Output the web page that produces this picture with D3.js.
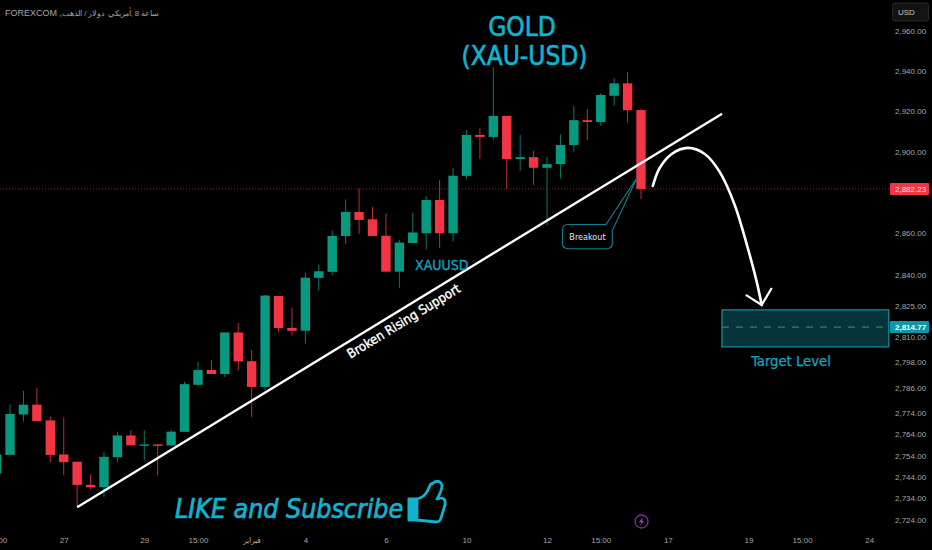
<!DOCTYPE html>
<html>
<head>
<meta charset="utf-8">
<script src="https://cdn.jsdelivr.net/npm/d3@7/dist/d3.min.js"></script>
<style>
html,body{margin:0;padding:0;background:#000;}
svg{display:block;}
</style>
</head>
<body>
<script>
const opens  = [2745.6,2754.3,2773.3,2777.9,2770.5,2754.5,2751.1,2740.3,2739.2,2753.2,2763.4,2759.0,2759.2,2758.7,2765.1,2787.3,2794.3,2792.4,2812.2,2798.5,2786.3,2829.7,2814.4,2813.0,2838.4,2841.3,2858.7,2870.4,2866.8,2858.8,2841.4,2855.3,2860.0,2876.2,2860.0,2888.0,2908.2,2907.2,2917.6,2896.3,2897.2,2892.0,2893.8,2903.2,2915.5,2914.6,2927.6,2933.8,2920.5];
const highs  = [2754.5,2777.9,2784.5,2785.8,2772.4,2771.8,2751.1,2745.2,2755.7,2765.2,2765.8,2765.8,2759.2,2766.2,2788.7,2798.2,2799.2,2812.2,2816.7,2803.9,2830.2,2829.7,2824.1,2841.0,2845.0,2861.3,2876.5,2881.9,2872.9,2869.7,2856.8,2870.0,2878.2,2886.0,2892.0,2910.6,2911.5,2942.0,2917.6,2908.2,2900.3,2897.5,2908.5,2922.5,2920.9,2928.9,2936.3,2939.3,2921.2];
const lows   = [2745.6,2754.3,2770.0,2770.2,2750.9,2744.8,2730.3,2738.2,2734.8,2750.9,2758.8,2751.8,2744.8,2758.7,2765.1,2786.9,2792.4,2791.0,2794.1,2772.1,2784.9,2812.4,2810.7,2806.9,2832.3,2839.6,2854.7,2859.6,2858.7,2841.4,2833.6,2855.3,2852.2,2852.9,2856.0,2886.4,2896.3,2905.7,2881.6,2890.6,2883.6,2864.0,2886.7,2899.9,2905.7,2912.8,2922.7,2914.2,2876.7];
const closes = [2754.5,2773.5,2777.9,2770.2,2754.3,2750.9,2740.3,2739.2,2753.4,2763.4,2758.8,2759.2,2759.0,2765.2,2787.6,2794.3,2792.4,2812.2,2798.4,2786.3,2829.9,2814.3,2813.0,2838.5,2841.6,2858.7,2870.4,2866.5,2858.7,2841.4,2855.5,2860.4,2876.2,2860.0,2888.1,2908.2,2907.2,2917.6,2896.3,2897.2,2892.0,2893.8,2903.2,2915.5,2914.6,2928.0,2933.8,2920.4,2881.6];

const priceTicks = [2960,2940,2920,2900,2880,2860,2840,2825,2810,2798,2786,2774,2764,2754,2744,2734,2724];
const timeTickIndex = [0,5,11,15,19,23,29,35,41,45,50,56,60,65];
const timeTickLabels = ["15:00","27","29","15:00","فبراير","4","6","10","12","15:00","17","19","15:00","24"];

const trendIndex = [6,54.04];
const trendPrice = [2729.9,2918.7];
const pathIndex = [48.88,49.40,50.29,51.48,52.75,53.86,54.98,55.95,56.62,56.99];
const pathPrice = [2883.1,2892,2898.8,2901.8,2898.8,2890,2873.8,2852.9,2836.5,2825.4];
const arrowIndex = [55.8,56.99,57.74];
const arrowPrice = [2830.2,2825.4,2833.5];
const targetIndex = [54.03,66.45];
const targetPrice = [2823,2805.3];
const targetMid = 2814.77;
const targetLabel = "2,814.77";
const lastPrice = 2881.6;
const lastLabel = "2,882.23";

const W=932,H=550;
const CYAN="#10b4cf", TEAL="#12a5c0";
const GREEN="#089981", RED="#f23645";
const x=d3.scaleLinear().domain([0,48]).range([-3.4,641]);
const y=d3.scaleLog().domain([2724,2960]).range([520,31]);
const svg=d3.select("body").append("svg").attr("width",W).attr("height",H).style("background","#000");
const SANS='"Liberation Sans",Arial,sans-serif';
const HUM='"DejaVu Sans Condensed","DejaVu Sans",sans-serif';

// last price dotted line
svg.append("line").attr("x1",0).attr("x2",889).attr("y1",y(lastPrice)).attr("y2",y(lastPrice))
  .attr("stroke",RED).attr("stroke-opacity",.55).attr("stroke-width",1).attr("stroke-dasharray","1 2");

// candles
const candles=svg.append("g").selectAll("g").data(d3.range(opens.length)).join("g");
const col=i=>closes[i]>=opens[i]?GREEN:RED;
candles.append("line").attr("x1",i=>x(i)).attr("x2",i=>x(i)).attr("y1",i=>y(highs[i])).attr("y2",i=>y(lows[i]))
  .attr("stroke",col).attr("stroke-width",1).attr("stroke-opacity",.8);
candles.append("rect").attr("x",i=>x(i)-4.7).attr("width",9.4)
  .attr("y",i=>y(Math.max(opens[i],closes[i])))
  .attr("height",i=>Math.max(1.4,Math.abs(y(opens[i])-y(closes[i]))))
  .attr("fill",col);

// target box
svg.append("rect").attr("x",x(targetIndex[0])).attr("width",x(targetIndex[1])-x(targetIndex[0]))
  .attr("y",y(targetPrice[0])).attr("height",y(targetPrice[1])-y(targetPrice[0]))
  .attr("fill","#06343a").attr("stroke","#0e8a96").attr("stroke-width",1.3);
svg.append("line").attr("x1",x(targetIndex[0])).attr("x2",x(targetIndex[1]))
  .attr("y1",y(targetMid)).attr("y2",y(targetMid))
  .attr("stroke","#2a9aa0").attr("stroke-width",1).attr("stroke-dasharray","7 7");

// trend line
svg.append("line").attr("x1",x(trendIndex[0])).attr("x2",x(trendIndex[1]))
  .attr("y1",y(trendPrice[0])).attr("y2",y(trendPrice[1]))
  .attr("stroke","#fff").attr("stroke-width",2.4);

// forecast curve
const line=d3.line().x(d=>x(d[0])).y(d=>y(d[1])).curve(d3.curveCatmullRom);
svg.append("path").attr("d",line(pathIndex.map((v,i)=>[v,pathPrice[i]])))
  .attr("fill","none").attr("stroke","#fff").attr("stroke-width",2.6).attr("stroke-linecap","round");
svg.append("path").attr("d",d3.line().x(d=>x(d[0])).y(d=>y(d[1]))(arrowIndex.map((v,i)=>[v,arrowPrice[i]])))
  .attr("fill","none").attr("stroke","#fff").attr("stroke-width",2.2);

// breakout callout
svg.append("path").attr("d","M568 224.5 H606 L636.7 178.3 L612.3 230.5 V243 Q612.3 248.7 606.6 248.7 H568 Q562.5 248.7 562.5 243 V230 Q562.5 224.5 568 224.5 Z")
  .attr("fill","#000").attr("stroke","#12808f").attr("stroke-width",1.1);
svg.append("text").attr("x",587.5).attr("y",239.5).attr("text-anchor","middle")
  .attr("font-family",HUM).attr("font-size",9).attr("fill","#e8e8e8").text("Breakout");

// texts
const title=svg.append("g").attr("font-family",HUM).attr("font-size",26).attr("fill",CYAN).attr("stroke",CYAN).attr("stroke-width",.6).attr("text-anchor","middle");
title.append("text").attr("x",522).attr("y",36).text("GOLD");
title.append("text").attr("x",524.5).attr("y",65).text("(XAU-USD)");
svg.append("text").attr("x",415).attr("y",270).attr("font-family",HUM).attr("font-size",14).attr("fill",TEAL).attr("stroke",TEAL).attr("stroke-width",.3).text("XAUUSD");
svg.append("text").attr("x",791).attr("y",366).attr("text-anchor","middle").attr("font-family",HUM).attr("font-size",14.7).attr("fill",TEAL).attr("stroke",TEAL).attr("stroke-width",.25).text("Target Level");
svg.append("text").attr("transform","translate(406,325) rotate(-31.4)").attr("text-anchor","middle")
  .attr("font-family",HUM).attr("font-size",13).attr("fill","#fff").attr("stroke","#fff").attr("stroke-width",.4).text("Broken Rising Support");
svg.append("text").attr("x",175).attr("y",518).attr("font-family",HUM).attr("font-style","italic")
  .attr("font-size",26.5).attr("fill",CYAN).attr("stroke",CYAN).attr("stroke-width",.7).text("LIKE and Subscribe");

// thumb icon
svg.append("path").attr("d","M417 499 Q425 497 428 490 Q431 482 432 484 Q437 479 441 483 Q444 487 437 499 L442 498 Q446 499 445 505 L441 518 Q440 522 436 522 L417 520 Z")
  .attr("fill","none").attr("stroke",CYAN).attr("stroke-width",2.8).attr("stroke-linejoin","round");
svg.append("path").attr("d","M408 498 H417 V521 H408 Z").attr("fill",CYAN).attr("stroke",CYAN).attr("stroke-width",1);

// legend
const legend=svg.append("text").attr("x",5).attr("y",16).attr("font-family",SANS).attr("fill","#a6a6a6");
legend.append("tspan").attr("font-size",9).text("FOREXCOM ,");
legend.append("tspan").attr("font-size",7.7).text("ساعة 8 ,أمريكي دولار / الذهب");

// right axis
const yAxis=d3.axisRight(y).tickValues(priceTicks).tickFormat(d3.format(",.2f")).tickSize(0).tickPadding(0);
const ga=svg.append("g").attr("transform","translate(895,0)").call(yAxis);
ga.select(".domain").remove();
ga.selectAll("text").attr("font-family",SANS).attr("font-size",8).attr("fill","#a6a6a6");

// bottom axis
const xAxis=d3.axisBottom(x).tickValues(timeTickIndex).tickFormat(d=>timeTickLabels[timeTickIndex.indexOf(d)]).tickSize(0).tickPadding(0);
const gx=svg.append("g").attr("transform","translate(0,537)").call(xAxis);
gx.select(".domain").remove();
gx.selectAll("text").attr("font-family",SANS).attr("font-size",8).attr("fill","#a6a6a6");

// price labels
function tag(price,label,fill,color,weight){
  const yy=y(price);
  svg.append("rect").attr("x",890).attr("y",yy-6).attr("width",39).attr("height",12).attr("fill",fill).attr("rx",1);
  svg.append("text").attr("x",895).attr("y",yy+3).attr("font-family",SANS).attr("font-size",8).attr("font-weight",weight)
    .attr("fill",color).text(label);
}
tag(lastPrice,lastLabel,RED,"#ffe5e8","normal");
tag(targetMid,targetLabel,"#0e97a8","#fff","bold");

// USD button
svg.append("rect").attr("x",892.5).attr("y",3).attr("width",36).attr("height",18).attr("rx",2.5).attr("fill","#131313").attr("stroke","#2a2a2a");
svg.append("text").attr("x",898).attr("y",15).attr("font-family",SANS).attr("font-size",8).attr("fill","#c8c8c8").text("USD");

// lightning badge
svg.append("circle").attr("cx",641.5).attr("cy",521.5).attr("r",6.5).attr("fill","none").attr("stroke","#7d3196").attr("stroke-width",1.3);
svg.append("path").attr("d","M643 517 L638.8 522.2 H641.3 L640 526 L644.2 520.8 H641.7 Z").attr("fill","#9a42b8");
</script>
</body>
</html>
